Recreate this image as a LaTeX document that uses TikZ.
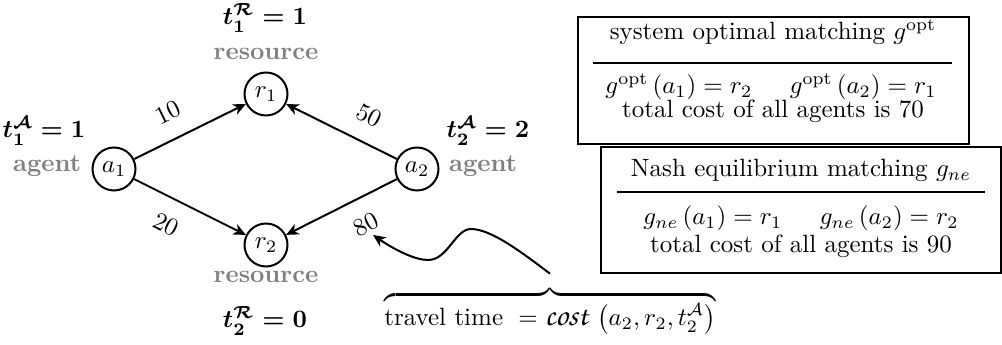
\documentclass[tikz,border=0pt]{standalone}
\usepackage{amsmath}
\usetikzlibrary{arrows.meta}
\newcommand{\costfn}{\mathord{\text{\fontsize{12.5}{14}\usefont{OT1}{pzc}{m}{it}cost\,}}}
\begin{document}
\begin{tikzpicture}[x=0.4pt,y=-0.4pt,
  vert/.style={circle,draw,thick,minimum size=17.2pt,inner sep=0pt},
  edge/.style={thick,-{Stealth[length=5pt,width=4.5pt,inset=1.5pt]}},
  role/.style={text=black!50,font=\bfseries,anchor=base},
  tval/.style={font=\boldmath,anchor=base},
  elab/.style={sloped,inner sep=0pt},
  box/.style={draw,line width=0.7pt,inner sep=0pt},
  boxtext/.style={anchor=base},
  rulel/.style={line width=0.8pt}]
\useasboundingbox (0,0) rectangle (1002,345);

% graph
\node[vert] (a1) at (114,169) {$a_1$};
\node[vert] (r1) at (266,94) {$r_1$};
\node[vert] (r2) at (266,245) {$r_2$};
\node[vert] (a2) at (417,169) {$a_2$};

\node[role] (res1) at (266,60) {resource};
\node[role] (res2) at (266,283) {resource};
\node[role] (ag1) at (47,172) {agent};
\node[role] (ag2) at (483,172) {agent};
\node[tval] (tr1) at (265,25) {$t_1^{\mathcal{R}}=1$};
\node[tval] (tr2) at (265,328) {$t_2^{\mathcal{R}}=0$};
\node[tval] (ta1) at (44,138) {$t_1^{\mathcal{A}}=1$};
\node[tval] (ta2) at (488,138) {$t_2^{\mathcal{A}}=2$};

\draw[edge] (a1) -- node[elab,pos=0.41,above=6.8pt]{10} (r1);
\draw[edge] (a2) -- node[elab,pos=0.36,above=6.8pt]{50} (r1);
\draw[edge] (a1) -- node[elab,pos=0.39,below=6.8pt]{20} (r2);
\draw[edge] (a2) -- node[elab,pos=0.39,below=6.8pt]{80} (r2);

% boxes
\node[box,minimum width=156.4pt,minimum height=50.8pt] (optbox) at (773.5,80.5) {};
\node[boxtext] (opttitle) at (773,40) {system optimal matching $g^{\mathrm{opt}}$};
\draw[rulel] (593,63) -- (952,63);
\node[boxtext] (optrow) at (771,94) {$g^{\mathrm{opt}}\left(a_1\right)=r_2\hskip 15pt g^{\mathrm{opt}}\left(a_2\right)=r_1$};
\node[boxtext] (optcost) at (773,118) {total cost of all agents is 70};

\node[box,minimum width=160pt,minimum height=50.4pt] (nebox) at (801,210) {};
\node[boxtext] (netitle) at (801,177) {Nash equilibrium matching $g_{ne}$};
\draw[rulel] (617,192) -- (985,192);
\node[boxtext] (nerow) at (801,225) {$g_{ne}\left(a_1\right)=r_1\hskip 15pt g_{ne}\left(a_2\right)=r_2$};
\node[boxtext] (necost) at (801,253) {total cost of all agents is 90};

% brace annotation
\node[anchor=base,outer sep=1.5pt] (brace) at (550,326) {$\overbrace{\text{travel time }=\costfn\left(a_2,r_2,t_2^{\mathcal{A}}\right)}$};
\coordinate (tip) at (373,235);
\draw[edge] (brace.north) .. controls (525,255) and (492,229) .. (471,229)
  .. controls (455,229) and (448,260) .. (428,260)
  .. controls (415,260) and (395,250) .. (tip);
\end{tikzpicture}
\end{document}
